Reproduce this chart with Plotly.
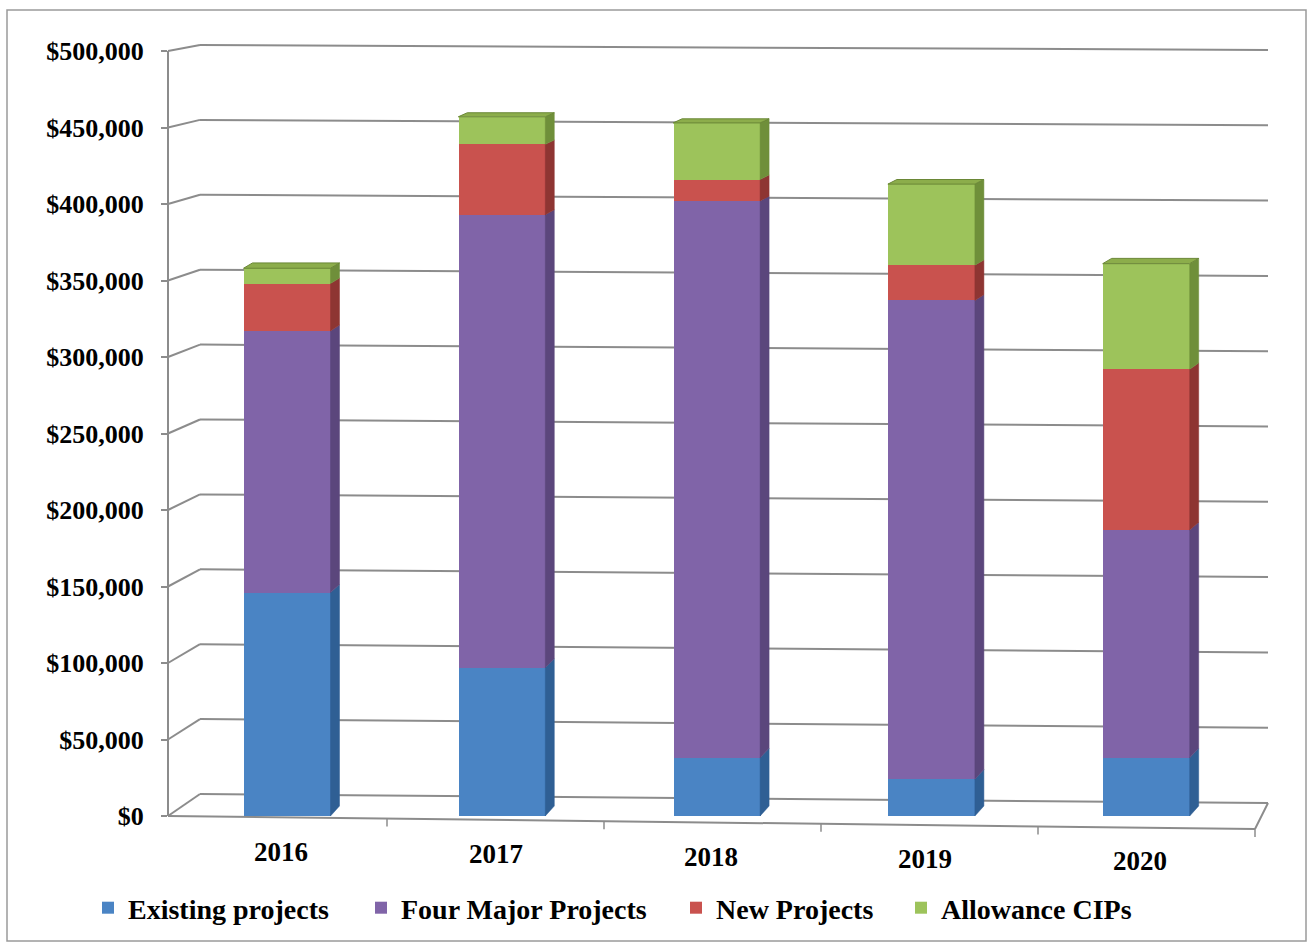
import plotly.graph_objects as go

# ---- data (US$) ----
years = ["2016", "2017", "2018", "2019", "2020"]
existing_projects = [146000, 97000, 38000, 24000, 38000]
four_major_projects = [171000, 296000, 364000, 313000, 149000]
new_projects = [31000, 46000, 14000, 23000, 105000]
allowance_cips = [10000, 18000, 37000, 53000, 69000]

series_names = ["Existing projects", "Four Major Projects", "New Projects", "Allowance CIPs"]
series_values = [existing_projects, four_major_projects, new_projects, allowance_cips]
front_colors = ["#4A84C4", "#8064A8", "#C9524E", "#9DC35B"]
side_colors = ["#2F5F94", "#5B467C", "#8E3532", "#6F8F3A"]
top_color = "#8CAD4B"
legend_widths = [228, 270, 180, 200]   # px reserved for each legend label

y_ticks = list(range(0, 500001, 50000))
y_tick_text = [f"${v:,}" for v in y_ticks]

# ---- page geometry (pixels) ----
W, H = 1313, 948
FONT = "Liberation Serif, Times New Roman, serif"


def px(x):
    return x / W


def py(y):
    return 1 - y / H


Y0_PX, Y500_PX = 816, 51            # front plane: $0 and $500,000
PX_PER_DOLLAR = (Y0_PX - Y500_PX) / 500000
X_LEFT_PX, STEP_PX = 179.6, 214.8   # category band start and width
BAR_W = 0.405                        # front face width in category units
DEPTH_X = 9 / STEP_PX                # receding depth of a bar, x units


def depth_val(v):
    """Vertical shift of a bar's back edge at height v, in data units."""
    frac = min(v, 460000) / 460000
    return (10 - 6 * frac) / PX_PER_DOLLAR


def front_y(v):
    return Y0_PX - v * PX_PER_DOLLAR


def back_y_left(v):
    return 794 - v * 749 / 500000


def back_y_right(v):
    return 803 - v * 753 / 500000


idx = list(range(len(years)))
fig = go.Figure()

# stacked front faces
for name, vals, col, lw in zip(series_names, series_values, front_colors, legend_widths):
    fig.add_trace(go.Bar(
        x=idx, y=vals, name=name, width=BAR_W, legendwidth=lw,
        marker=dict(color=col, line=dict(width=0)),
        hoverinfo="skip",
    ))

# right-hand side faces of each stacked segment
bottoms = [0] * len(years)
for name, vals, col in zip(series_names, series_values, side_colors):
    xs, ys = [], []
    for i, v in enumerate(vals):
        b = bottoms[i]
        t = b + v
        xr = i + BAR_W / 2
        xs += [xr, xr, xr + DEPTH_X, xr + DEPTH_X, xr, None]
        ys += [b, t, t + depth_val(t), b + depth_val(b), b, None]
        bottoms[i] = t
    fig.add_trace(go.Scatter(
        x=xs, y=ys, mode="lines", fill="toself", fillcolor=col,
        line=dict(color=col, width=0.5), showlegend=False, hoverinfo="skip",
    ))
tops_total = bottoms[:]

# top faces of the stacks
xs, ys = [], []
for i, t in enumerate(tops_total):
    xl, xr = i - BAR_W / 2, i + BAR_W / 2
    d = depth_val(t)
    xs += [xl, xr, xr + DEPTH_X, xl + DEPTH_X, xl, None]
    ys += [t, t, t + d, t + d, t, None]
fig.add_trace(go.Scatter(
    x=xs, y=ys, mode="lines", fill="toself", fillcolor=top_color,
    line=dict(color="#6A8736", width=1), showlegend=False, hoverinfo="skip",
))

# ---- walls, floor and grid ----
GRID = "#8C8C8C"
shapes = []
for v in y_ticks:
    shapes.append(dict(type="line", xref="paper", yref="paper", layer="below",
                       x0=px(200), y0=py(back_y_left(v)), x1=px(1268), y1=py(back_y_right(v)),
                       line=dict(color=GRID, width=2)))
    shapes.append(dict(type="line", xref="paper", yref="paper", layer="below",
                       x0=px(168), y0=py(front_y(v)), x1=px(200), y1=py(back_y_left(v)),
                       line=dict(color=GRID, width=2)))
# floor front and right edges
shapes.append(dict(type="line", xref="paper", yref="paper", layer="below",
                   x0=px(168), y0=py(Y0_PX), x1=px(1255), y1=py(829),
                   line=dict(color=GRID, width=2)))
shapes.append(dict(type="line", xref="paper", yref="paper", layer="below",
                   x0=px(1255), y0=py(829), x1=px(1268), y1=py(back_y_right(0)),
                   line=dict(color=GRID, width=2)))
# category separators on the floor edge
for k in range(1, len(years) + 1):
    xk = 170 + 217 * k
    yk = Y0_PX + (xk - 168) * 13 / 1087
    shapes.append(dict(type="line", xref="paper", yref="paper", layer="below",
                       x0=px(xk), y0=py(yk), x1=px(xk), y1=py(yk + 8),
                       line=dict(color=GRID, width=1.5)))
# chart border
shapes.append(dict(type="rect", xref="paper", yref="paper", layer="below",
                   x0=px(7), y0=py(941), x1=px(1306), y1=py(10),
                   line=dict(color="#9A9A9A", width=1.5)))

# category labels along the receding floor edge
annotations = []
for i, yr in enumerate(years):
    annotations.append(dict(
        x=i, y=0, xref="x", yref="y", text=yr, showarrow=False,
        xshift=-6, yshift=-(36 + 2.3 * i), yanchor="middle",
        font=dict(family=FONT, size=27, color="black", weight="bold"),
    ))

fig.update_layout(
    template="none",
    width=W, height=H,
    margin=dict(l=0, r=0, t=0, b=0, pad=0, autoexpand=False),
    paper_bgcolor="white", plot_bgcolor="rgba(0,0,0,0)",
    barmode="stack",
    bargap=0,
    shapes=shapes,
    annotations=annotations,
    xaxis=dict(
        domain=[px(X_LEFT_PX), px(X_LEFT_PX + 5 * STEP_PX)],
        range=[-0.5, 4.5], showticklabels=False, showgrid=False,
        zeroline=False, showline=False, ticks="", fixedrange=True,
        automargin=False,
    ),
    yaxis=dict(
        domain=[py(Y0_PX), py(Y500_PX)], range=[0, 500000],
        anchor="free", position=px(168),
        tickvals=y_ticks, ticktext=y_tick_text,
        showgrid=False, zeroline=False,
        showline=True, linecolor=GRID, linewidth=2,
        ticks="outside", ticklen=6, tickcolor=GRID, tickwidth=2,
        ticklabelstandoff=12,
        tickfont=dict(family=FONT, size=26, color="black", weight="bold"),
        fixedrange=True, automargin=False,
    ),
    legend=dict(
        orientation="h", x=px(88), xanchor="left", y=py(908), yanchor="middle",
        font=dict(family=FONT, size=28, color="black", weight="bold"),
        bgcolor="rgba(0,0,0,0)", borderwidth=0, traceorder="normal",
    ),
    showlegend=True,
)

fig.write_html("out.html")
